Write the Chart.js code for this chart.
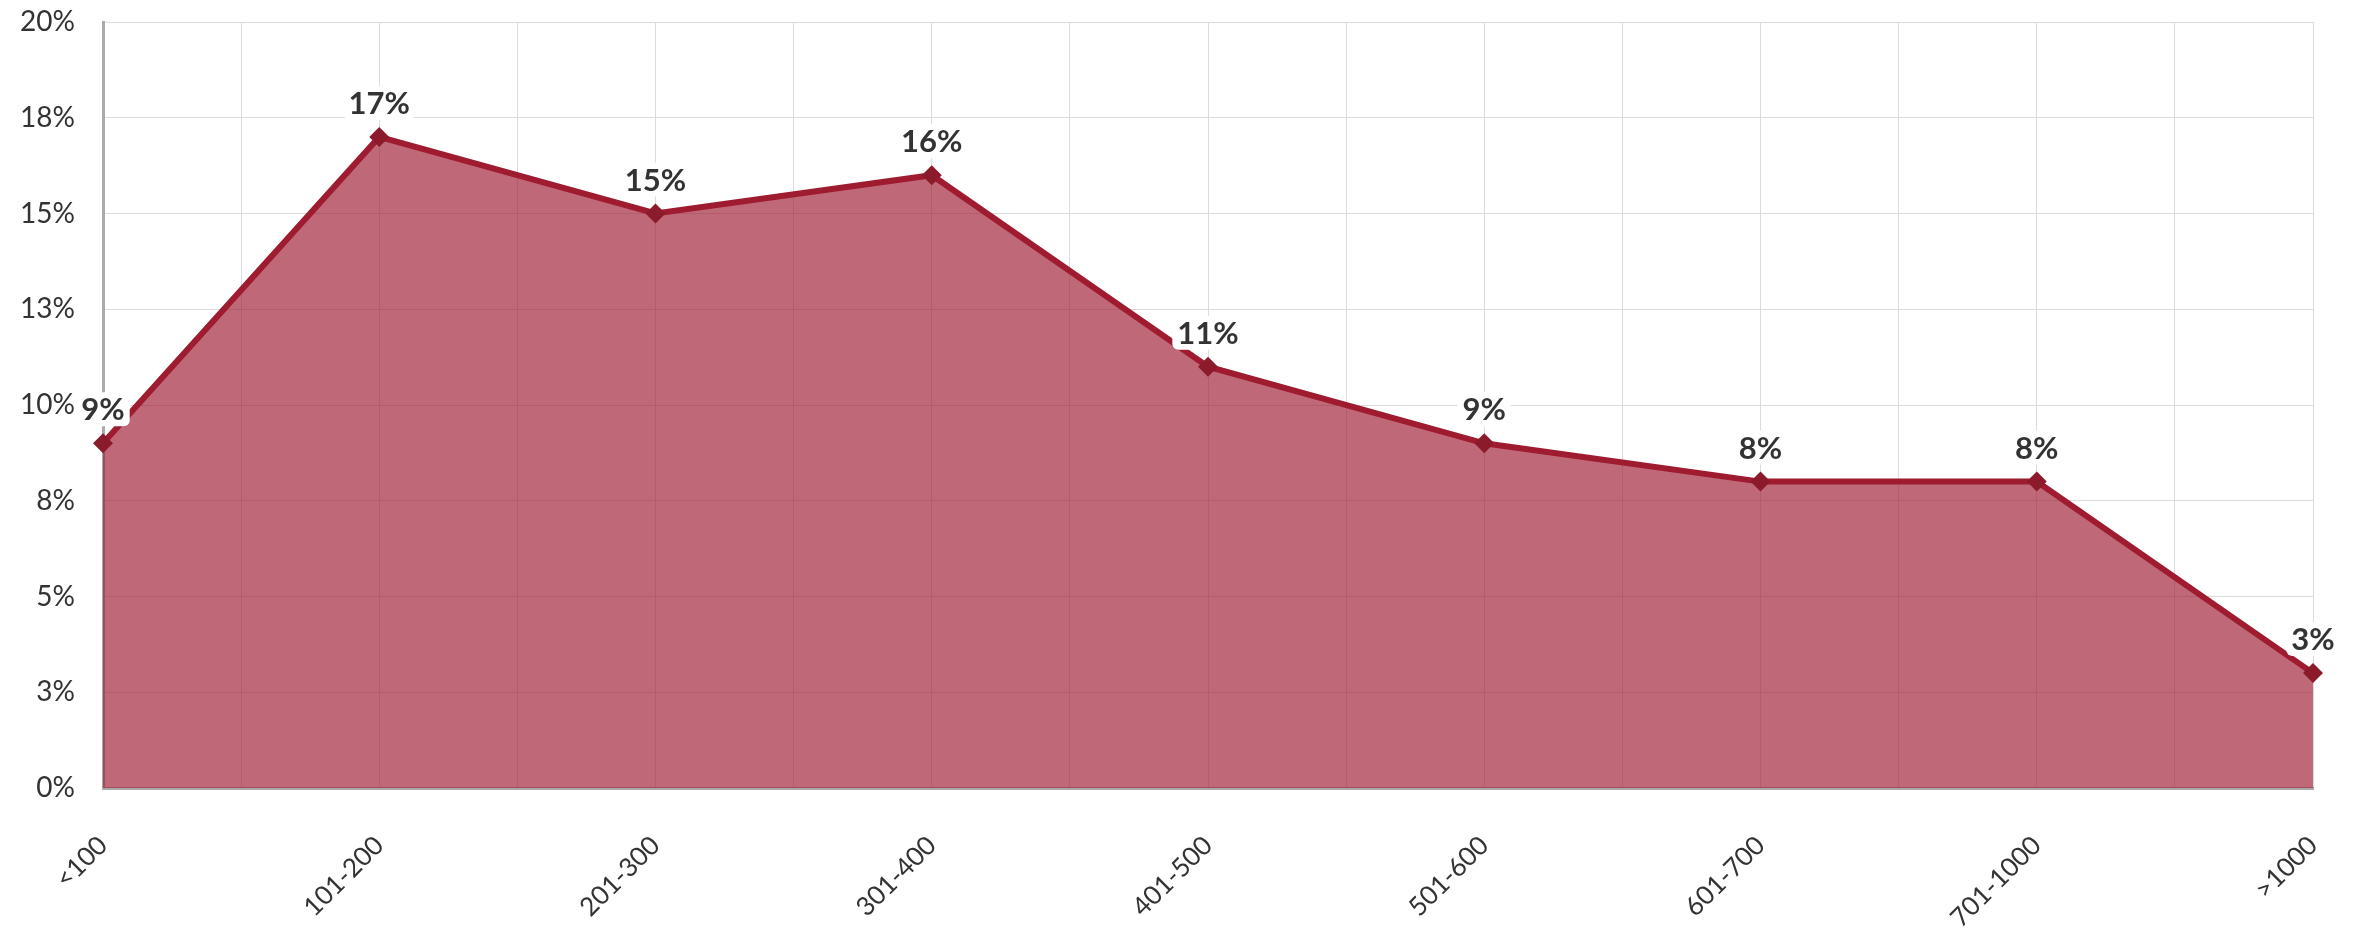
<!DOCTYPE html>
<html>
<head>
<meta charset="utf-8">
<style>
  html, body { margin: 0; padding: 0; background: #fff; }
  #wrap { width: 2358px; height: 932px; }
</style>
<script src="https://cdn.jsdelivr.net/npm/chart.js@4/dist/chart.umd.min.js"></script>
</head>
<body>
<div id="wrap"><canvas id="areaChart"></canvas></div>
<script>
// DATA
let categories = ["<100", "101-200", "201-300", "301-400", "401-500", "501-600", "601-700", "701-1000", ">1000"];
let shares = [9, 17, 15, 16, 11, 9, 8, 8, 3];
let yTicks = [0, 2.5, 5, 7.5, 10, 12.5, 15, 17.5, 20];

// half-step grid labels (grid only)
let gridLabels = [];
categories.forEach((c, i) => {
    gridLabels.push(c);
    if (i < categories.length - 1) gridLabels.push("");
});

// value labels above points, white box behind
const valueLabels = {
    id: "valueLabels",
    afterDatasetsDraw(chart) {
        let ctx = chart.ctx;
        let meta = chart.getDatasetMeta(0);
        ctx.save();
        ctx.font = "bold 31px Lato, 'Noto Sans', sans-serif";
        ctx.textAlign = "center";
        ctx.textBaseline = "middle";
        meta.data.forEach((pt, i) => {
            let txt = shares[i] + "%";
            let w = ctx.measureText(txt).width + 10;
            let h = 34;
            let x = pt.x, y = pt.y - 34;
            ctx.fillStyle = "#fff";
            ctx.beginPath();
            ctx.roundRect(x - w / 2, y - h / 2, w, h, 6);
            ctx.fill();
            ctx.fillStyle = "#333";
            ctx.fillText(txt, x, y + 1);
        });
        ctx.restore();
    }
};

// drop the auto label padding so the plot area follows layout.padding
function noPad(scale) {
    scale.paddingTop = 0;
    scale.paddingBottom = 0;
    scale.paddingLeft = 0;
    scale.paddingRight = 0;
}

let ctx1 = document.getElementById("areaChart");

new Chart(ctx1, {
    type: "line",
    data: {
        labels: categories,
        datasets: [{
            data: shares,
            fill: "origin",
            backgroundColor: "rgba(158, 27, 50, 0.66)",
            borderColor: "#9E1B30",
            borderWidth: 6,
            tension: 0,
            pointStyle: "rectRot",
            pointRadius: 10,
            pointBorderWidth: 0,
            pointBackgroundColor: "#8B1A2B",
            clip: false
        }]
    },
    options: {
        responsive: true,
        maintainAspectRatio: false,
        animation: false,
        layout: { padding: { top: 22, right: 45, left: 0, bottom: 0 } },
        plugins: {
            legend: { display: false },
            tooltip: { enabled: false }
        },
        scales: {
            x: {
                offset: false,
                grid: { display: false, drawTicks: false },
                border: { color: "#aaa", width: 3 },
                ticks: {
                    color: "#333",
                    font: { family: "Lato, 'Noto Sans', sans-serif", size: 26 },
                    maxRotation: 45,
                    minRotation: 45,
                    autoSkip: false,
                    padding: 42
                },
                afterFit(scale) { scale.height = 144; noPad(scale); }
            },
            xg: {
                type: "category",
                labels: gridLabels,
                position: "bottom",
                offset: false,
                grid: { color: "#dcdcdc", lineWidth: 1, drawTicks: false },
                border: { display: false },
                ticks: { display: false },
                afterFit(scale) { scale.height = 0; noPad(scale); }
            },
            y: {
                min: 0,
                max: 20,
                afterBuildTicks(scale) {
                    scale.ticks = yTicks.map(v => ({ value: v }));
                },
                grid: { color: "#dcdcdc", lineWidth: 1, drawTicks: false },
                border: { color: "#aaa", width: 3 },
                ticks: {
                    color: "#333",
                    font: { family: "Lato, 'Noto Sans', sans-serif", size: 28 },
                    padding: 28,
                    callback: v => Math.round(v) + "%"
                },
                afterFit(scale) { scale.width = 103; noPad(scale); }
            }
        }
    },
    plugins: [valueLabels]
});
</script>
</body>
</html>
